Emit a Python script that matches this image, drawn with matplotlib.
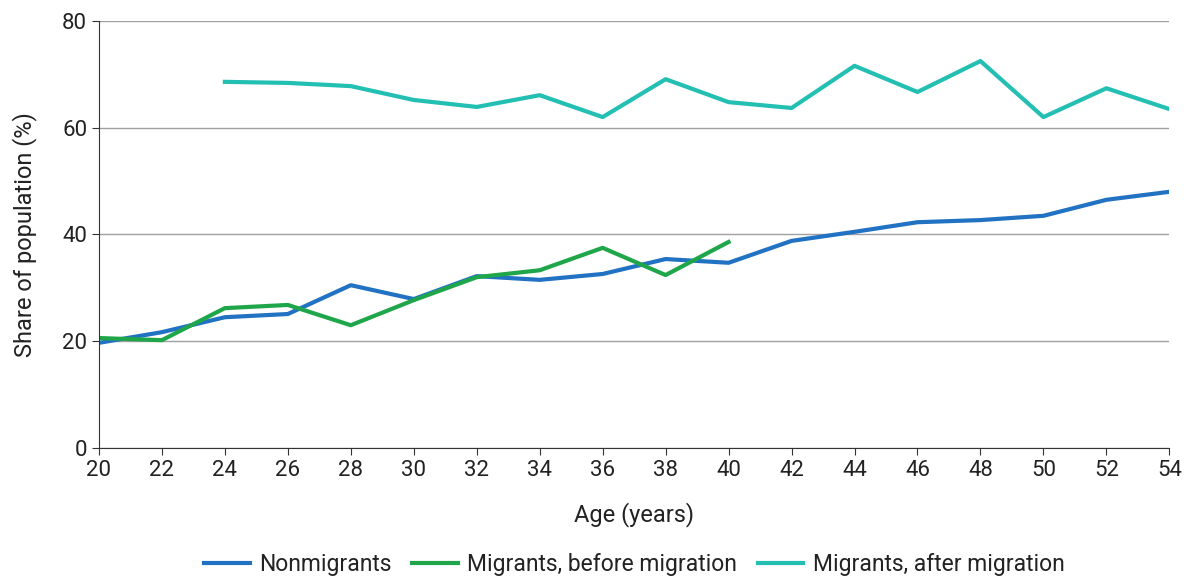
import matplotlib
matplotlib.use("Agg")
import matplotlib.pyplot as plt

plt.rcParams["font.family"] = ["Roboto", "DejaVu Sans"]

ages = list(range(20, 56, 2))
nonmigrants = [19.7, 21.7, 24.5, 25.1, 30.5, 27.9, 32.2, 31.5, 32.6, 35.4,
               34.7, 38.8, 40.5, 42.3, 42.7, 43.5, 46.5, 48.0]
ages_before = list(range(20, 42, 2))
before = [20.6, 20.2, 26.2, 26.8, 23.0, 27.7, 32.0, 33.3, 37.5, 32.4, 38.6]
ages_after = list(range(24, 56, 2))
after = [68.6, 68.4, 67.8, 65.2, 63.9, 66.1, 62.0, 69.1, 64.8, 63.7, 71.6,
         66.7, 72.5, 62.0, 67.4, 63.5]

BLUE, GREEN, TEAL = "#2272c3", "#1fa64a", "#22bfb2"

fig = plt.figure(figsize=(11.92, 5.77), dpi=100)
ax = fig.add_axes([0.083, 0.2236, 0.898, 0.74])
ax.plot(ages, nonmigrants, color=BLUE, lw=3, label="Nonmigrants")
ax.plot(ages_before, before, color=GREEN, lw=3, label="Migrants, before migration")
ax.plot(ages_after, after, color=TEAL, lw=3, label="Migrants, after migration")

ax.set_xlim(20, 54)
ax.set_ylim(0, 80)
ax.set_xticks(ages)
ax.set_yticks([0, 20, 40, 60, 80])
ax.yaxis.grid(True, color="#a0a0a0", lw=1)
ax.set_axisbelow(True)
for s in ("top", "right"):
    ax.spines[s].set_visible(False)
ax.spines["left"].set_color("#333333")
ax.spines["bottom"].set_color("#333333")
ax.tick_params(labelsize=16, length=5, color="#333333", labelcolor="#222222")
ax.set_xlabel("Age (years)", fontsize=17, labelpad=15, color="#222222")
ax.set_ylabel("Share of population (%)", fontsize=17, labelpad=18, color="#222222")
ax.legend(loc="center", bbox_to_anchor=(0.5, -0.274), ncol=3,
          frameon=False, fontsize=16.5, handlelength=2.0, columnspacing=0.9,
          handletextpad=0.4, labelcolor="#222222")
fig.savefig("out.png")
